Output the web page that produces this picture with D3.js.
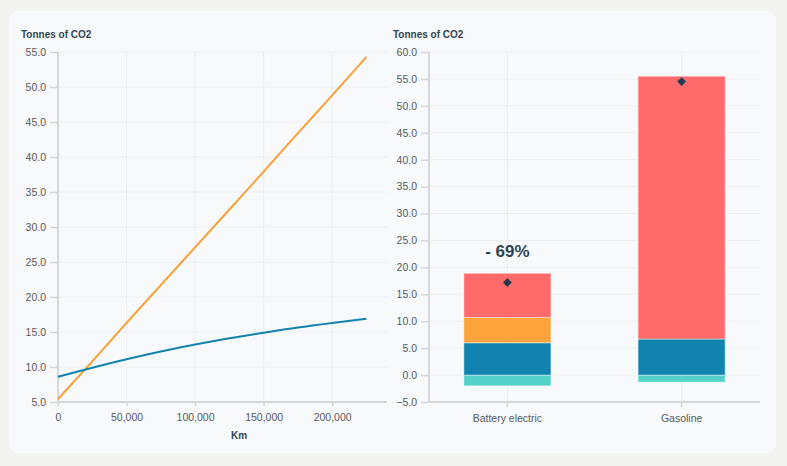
<!DOCTYPE html>
<html>
<head>
<meta charset="utf-8">
<script src="https://cdn.jsdelivr.net/npm/d3@7"></script>
<style>
  html, body { margin: 0; padding: 0; background: #f3f3f1; }
  svg { display: block; }
  text { font-family: "Liberation Sans", Arial, sans-serif; }
</style>
</head>
<body>
<svg id="chart" width="787" height="466"></svg>
<script>
// ---- Data ----
const kmValues = [0, 25000, 50000, 75000, 100000, 125000, 150000, 175000, 200000, 225000];
const gasolineLine = [5.4, 10.8, 16.3, 21.7, 27.1, 32.5, 37.9, 43.4, 48.8, 54.3];
const electricLine = [8.6, 9.9, 11.1, 12.2, 13.2, 14.1, 14.9, 15.65, 16.3, 16.9];
const xTicksLeft = [0, 50000, 100000, 150000, 200000];
const yTicksLeft = [5, 10, 15, 20, 25, 30, 35, 40, 45, 50, 55];

const categories = ["Battery electric", "Gasoline"];
const segTeal = [-2.0, -1.3];
const segBlue = [6.0, 6.7];
const segOrange = [4.7, 0];
const segRed = [8.2, 48.8];
const netTotals = [17.2, 54.5];
const yTicksRight = [-5, 0, 5, 10, 15, 20, 25, 30, 35, 40, 45, 50, 55, 60];
const reductionLabel = "- 69%";
const yTitle = "Tonnes of CO2";
const xTitle = "Km";

const colors = { red: "#ff6b6b", orange: "#fca33b", blue: "#1283ae", teal: "#54d1c9", diamond: "#213a52" };

const svg = d3.select("#chart");

// card
svg.append("rect").attr("x", 9).attr("y", 11).attr("width", 767).attr("height", 442)
  .attr("rx", 9).attr("fill", "#f8f9fb");

const gridColor = "#eceef1";
const axisColor = "#d6d7da";
const tickTextColor = "#555a5e";
const titleColor = "#34444f";

// ---------- Left chart ----------
const xL = d3.scaleLinear().domain([0, 240000]).range([58, 387]);
const yL = d3.scaleLinear().domain([5, 55]).range([402, 52]);

const gL = svg.append("g");
// grid
gL.append("g").selectAll("line").data(yTicksLeft.slice(1)).join("line")
  .attr("x1", 58).attr("x2", 387).attr("y1", d => yL(d)).attr("y2", d => yL(d))
  .attr("stroke", gridColor).attr("stroke-width", 1);
gL.append("g").selectAll("line").data(xTicksLeft.slice(1)).join("line")
  .attr("x1", d => xL(d)).attr("x2", d => xL(d)).attr("y1", 52).attr("y2", 402)
  .attr("stroke", gridColor).attr("stroke-width", 1);

// y axis
const yAxisL = gL.append("g").attr("transform", "translate(58,0)")
  .call(d3.axisLeft(yL).tickValues(yTicksLeft).tickFormat(d3.format(".1f")).tickSize(8).tickPadding(4));
// x axis
const xAxisL = gL.append("g").attr("transform", "translate(0,402)")
  .call(d3.axisBottom(xL).tickValues(xTicksLeft).tickFormat(d3.format(",")).tickSize(4).tickPadding(8));

function styleAxis(g) {
  g.select(".domain").attr("stroke", axisColor).attr("stroke-width", 2);
  g.selectAll(".tick line").attr("stroke", axisColor).attr("stroke-width", 1.5);
  g.selectAll(".tick text").attr("fill", tickTextColor).attr("font-size", 10.5)
    .attr("font-family", "'Liberation Sans', Arial, sans-serif");
}
styleAxis(yAxisL); styleAxis(xAxisL);
yAxisL.select(".domain").attr("d", "M0,52V402");
xAxisL.select(".domain").attr("d", "M58,0H387");

gL.append("text").attr("x", 21).attr("y", 38).text(yTitle)
  .attr("font-size", 10).attr("font-weight", "bold").attr("fill", titleColor)
  .attr("font-family", "Inter, 'Noto Sans', sans-serif");
gL.append("text").attr("x", 239).attr("y", 439).attr("text-anchor", "middle").text(xTitle)
  .attr("font-size", 10).attr("font-weight", "bold").attr("fill", titleColor)
  .attr("font-family", "Inter, 'Noto Sans', sans-serif");

const lineGen = (vals) => d3.line().x((d, i) => xL(kmValues[i])).y(d => yL(d)).curve(d3.curveMonotoneX)(vals);
gL.append("path").attr("d", lineGen(gasolineLine)).attr("fill", "none")
  .attr("stroke", "#f7a035").attr("stroke-width", 2);
gL.append("path").attr("d", lineGen(electricLine)).attr("fill", "none")
  .attr("stroke", "#1283ae").attr("stroke-width", 2);

// ---------- Right chart ----------
const xR = d3.scaleBand().domain(categories).range([429, 760]).paddingInner(0.5).paddingOuter(0.2);
const yR = d3.scaleLinear().domain([-5, 60]).range([402, 52]);

const gR = svg.append("g");
gR.append("g").selectAll("line").data(yTicksRight.slice(1)).join("line")
  .attr("x1", 429).attr("x2", 760).attr("y1", d => yR(d)).attr("y2", d => yR(d))
  .attr("stroke", gridColor).attr("stroke-width", 1);
gR.append("g").selectAll("line").data(categories).join("line")
  .attr("x1", d => xR(d) + xR.bandwidth() / 2).attr("x2", d => xR(d) + xR.bandwidth() / 2)
  .attr("y1", 52).attr("y2", 402).attr("stroke", gridColor).attr("stroke-width", 1);

const yAxisR = gR.append("g").attr("transform", "translate(429,0)")
  .call(d3.axisLeft(yR).tickValues(yTicksRight).tickFormat(d3.format(".1f")).tickSize(8).tickPadding(4));
const xAxisR = gR.append("g").attr("transform", "translate(0,402)")
  .call(d3.axisBottom(xR).tickSize(5).tickPadding(8));
styleAxis(yAxisR); styleAxis(xAxisR);
yAxisR.select(".domain").attr("d", "M0,52V402");
xAxisR.select(".domain").attr("d", "M429,0H760");

gR.append("text").attr("x", 393).attr("y", 38).text(yTitle)
  .attr("font-size", 10).attr("font-weight", "bold").attr("fill", titleColor)
  .attr("font-family", "Inter, 'Noto Sans', sans-serif");

// stacked segments
const segments = [];
categories.forEach((c, i) => {
  segments.push({ c, y0: segTeal[i], y1: 0, color: colors.teal });
  let base = 0;
  [[segBlue[i], colors.blue], [segOrange[i], colors.orange], [segRed[i], colors.red]].forEach(([v, col]) => {
    if (v > 0) { segments.push({ c, y0: base, y1: base + v, color: col }); base += v; }
  });
});
gR.append("g").selectAll("rect").data(segments).join("rect")
  .attr("x", d => xR(d.c)).attr("width", xR.bandwidth())
  .attr("y", d => yR(Math.max(d.y0, d.y1)))
  .attr("height", d => Math.abs(yR(d.y0) - yR(d.y1)))
  .attr("fill", d => d.color)
  .attr("stroke", "rgba(255,255,255,0.45)").attr("stroke-width", 1);

// diamonds
gR.append("g").selectAll("path").data(categories).join("path")
  .attr("d", d3.symbol().type(d3.symbolDiamond2).size(50))
  .attr("transform", (d, i) => `translate(${xR(d) + xR.bandwidth() / 2},${yR(netTotals[i])}) rotate(0)`)
  .attr("fill", colors.diamond);

// reduction label
gR.append("text")
  .attr("x", xR(categories[0]) + xR.bandwidth() / 2)
  .attr("y", yR(segTeal[0] + segBlue[0] + segOrange[0] + segRed[0] + 2) - 16)
  .attr("text-anchor", "middle").text(reductionLabel)
  .attr("font-size", 17).attr("font-weight", "bold").attr("fill", "#2f4550")
  .attr("font-family", "Inter, 'Noto Sans', sans-serif");
</script>
</body>
</html>
